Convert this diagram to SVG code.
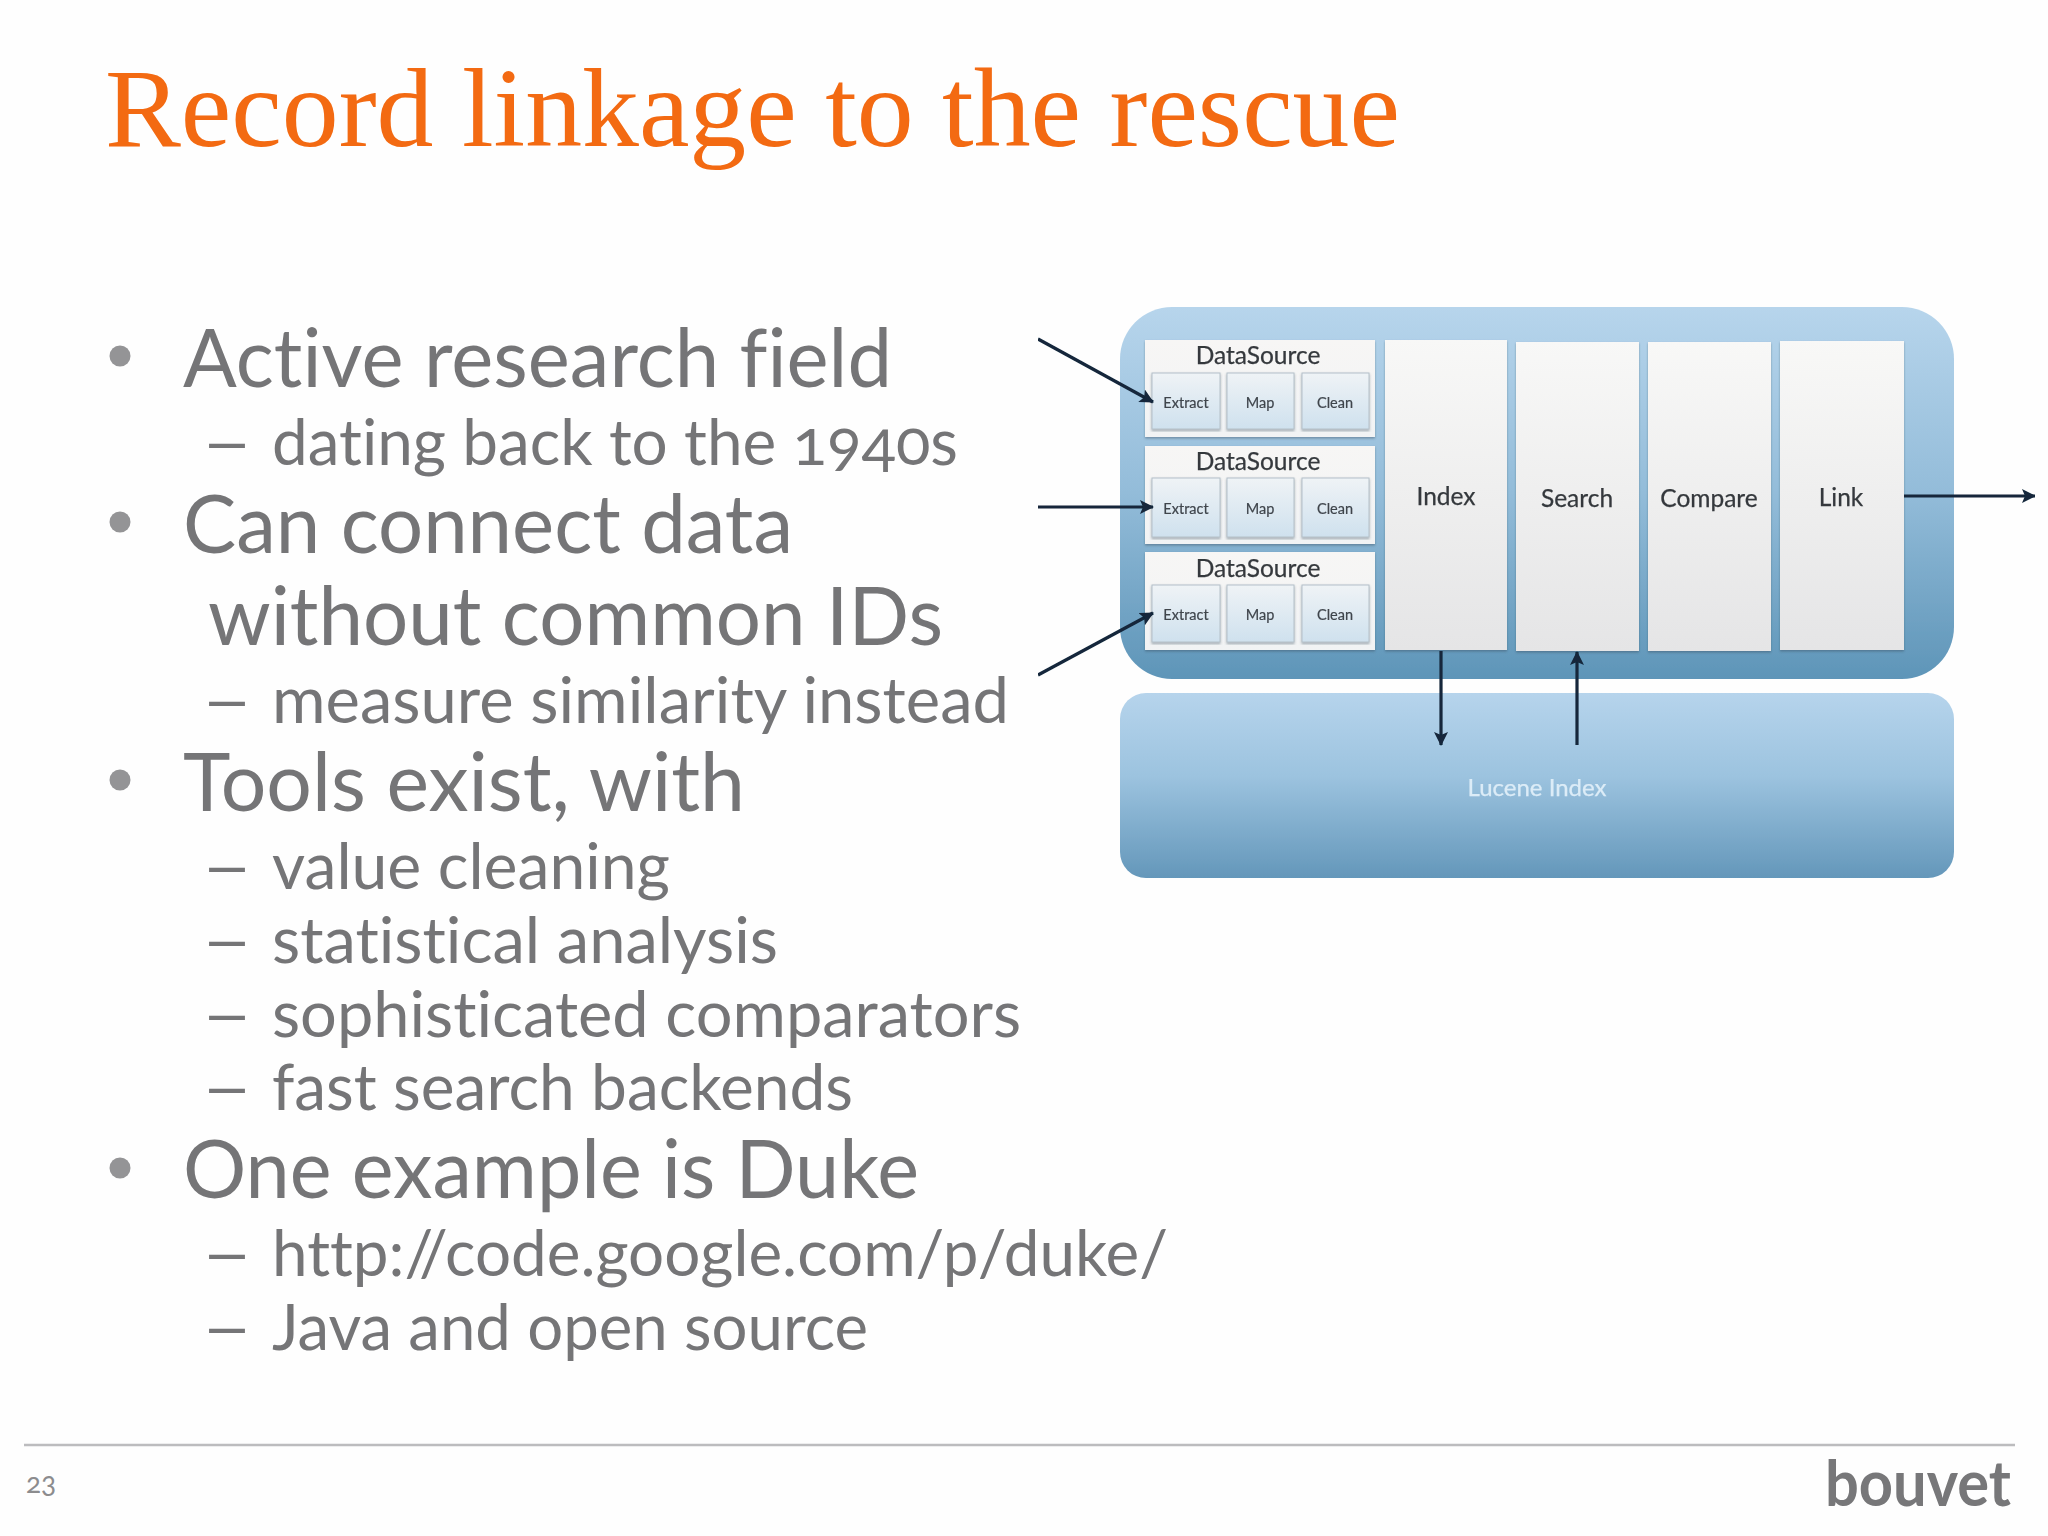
<svg xmlns="http://www.w3.org/2000/svg" width="2048" height="1536" viewBox="0 0 2048 1536">
<style>
text{font-family:"Lato","Open Sans","Liberation Sans",sans-serif;fill:#757577;font-variant-numeric:oldstyle-nums;font-variant-ligatures:none}
.title{font-family:"Liberation Serif",serif;font-size:113px;fill:#F36A12}
.l1{font-size:82px}
.l2{font-size:64px}
.blt{fill:#949496}
.ds{font-size:24.5px;fill:#34383c;text-anchor:middle;stroke:#34383c;stroke-width:.25}
.sm{font-size:14.5px;fill:#3f454c;text-anchor:middle;stroke:#3f454c;stroke-width:.2}
.st{font-size:24.5px;fill:#34383c;text-anchor:middle;stroke:#34383c;stroke-width:.25}
.pan{fill:url(#panelG);filter:url(#sh)}
.box{fill:url(#boxG);stroke:#b4c0c9;stroke-width:1;filter:url(#sh)}
.col{fill:url(#colG);filter:url(#sh)}
.conn{stroke:#12263a;stroke-width:3.2;fill:none;marker-end:url(#ah)}
</style>
<defs>
<linearGradient id="outerG" x1="0" y1="0" x2="0" y2="1"><stop offset="0" stop-color="#b7d5ec"/><stop offset=".5" stop-color="#93bcd9"/><stop offset="1" stop-color="#5e95b8"/></linearGradient>
<linearGradient id="lucG" x1="0" y1="0" x2="0" y2="1"><stop offset="0" stop-color="#b6d4ec"/><stop offset=".45" stop-color="#9cc3df"/><stop offset="1" stop-color="#6497ba"/></linearGradient>
<linearGradient id="panelG" x1="0" y1="0" x2="0" y2="1"><stop offset="0" stop-color="#f7f6f5"/><stop offset="1" stop-color="#f1f3f4"/></linearGradient>
<linearGradient id="colG" x1="0" y1="0" x2="0" y2="1"><stop offset="0" stop-color="#f8f8f7"/><stop offset="1" stop-color="#e5e5e6"/></linearGradient>
<linearGradient id="boxG" x1="0" y1="0" x2="0" y2="1"><stop offset="0" stop-color="#eff3f6"/><stop offset="1" stop-color="#cfe1ee"/></linearGradient>
<filter id="sh" x="-5%" y="-5%" width="110%" height="110%"><feDropShadow dx="0" dy="1.5" stdDeviation="1.2" flood-color="#33495a" flood-opacity=".45"/></filter>
<filter id="soft" x="0" y="0" width="100%" height="100%"><feGaussianBlur stdDeviation=".6"/></filter>
<marker id="ah" markerUnits="userSpaceOnUse" markerWidth="16" markerHeight="16" refX="13" refY="7" orient="auto"><path d="M0 0L14 7L0 14L3 7Z" fill="#12263a"/></marker>
</defs>
<rect width="2048" height="1536" fill="#fefefe"/>
<g id="title"><text class="title" x="105" y="146" textLength="1295" lengthAdjust="spacingAndGlyphs">Record linkage to the rescue</text></g>
<g id="body">
<circle class="blt" cx="120" cy="356" r="10.5"/>
<text class="l1" x="183" y="387" textLength="709" lengthAdjust="spacingAndGlyphs">Active research field</text>
<text class="l2" x="201" y="465" textLength="52" lengthAdjust="spacingAndGlyphs">–</text>
<text class="l2" x="272" y="465" textLength="686" lengthAdjust="spacingAndGlyphs">dating back to the 1940s</text>
<circle class="blt" cx="120" cy="522" r="10.5"/>
<text class="l1" x="183" y="553" textLength="610" lengthAdjust="spacingAndGlyphs">Can connect data</text>
<text class="l1" x="208" y="645" textLength="735" lengthAdjust="spacingAndGlyphs">without common IDs</text>
<text class="l2" x="201" y="723" textLength="52" lengthAdjust="spacingAndGlyphs">–</text>
<text class="l2" x="272" y="723" textLength="737" lengthAdjust="spacingAndGlyphs">measure similarity instead</text>
<circle class="blt" cx="120" cy="780" r="10.5"/>
<text class="l1" x="183" y="811" textLength="562" lengthAdjust="spacingAndGlyphs">Tools exist, with</text>
<text class="l2" x="201" y="889" textLength="52" lengthAdjust="spacingAndGlyphs">–</text>
<text class="l2" x="272" y="889" textLength="398" lengthAdjust="spacingAndGlyphs">value cleaning</text>
<text class="l2" x="201" y="963" textLength="52" lengthAdjust="spacingAndGlyphs">–</text>
<text class="l2" x="272" y="963" textLength="506" lengthAdjust="spacingAndGlyphs">statistical analysis</text>
<text class="l2" x="201" y="1037" textLength="52" lengthAdjust="spacingAndGlyphs">–</text>
<text class="l2" x="272" y="1037" textLength="749" lengthAdjust="spacingAndGlyphs">sophisticated comparators</text>
<text class="l2" x="201" y="1110" textLength="52" lengthAdjust="spacingAndGlyphs">–</text>
<text class="l2" x="272" y="1110" textLength="581" lengthAdjust="spacingAndGlyphs">fast search backends</text>
<circle class="blt" cx="120" cy="1168" r="10.5"/>
<text class="l1" x="183" y="1198" textLength="736" lengthAdjust="spacingAndGlyphs">One example is Duke</text>
<text class="l2" x="201" y="1276" textLength="52" lengthAdjust="spacingAndGlyphs">–</text>
<text class="l2" x="272" y="1276" textLength="896" lengthAdjust="spacingAndGlyphs">http://code.google.com/p/duke/</text>
<text class="l2" x="201" y="1350" textLength="52" lengthAdjust="spacingAndGlyphs">–</text>
<text class="l2" x="272" y="1350" textLength="596" lengthAdjust="spacingAndGlyphs">Java and open source</text>
</g>
<g id="diagram" filter="url(#soft)">
<g id="engine"><rect x="1120" y="307" width="834" height="372" rx="52" fill="url(#outerG)"/></g>
<g id="lucene"><rect x="1120" y="693" width="834" height="185" rx="26" fill="url(#lucG)"/><text x="1537" y="796" class="st" style="fill:#dcecf7;stroke:#dcecf7;font-size:24px">Lucene Index</text></g>
<g id="ds1"><rect class="pan" x="1145" y="340" width="230" height="97"/><text class="ds" x="1258" y="364">DataSource</text>
<g id="ds1-extract"><rect class="box" x="1152" y="373" width="68" height="56"/><text class="sm" x="1186" y="408">Extract</text></g>
<g id="ds1-map"><rect class="box" x="1227" y="373" width="67" height="56"/><text class="sm" x="1260" y="408">Map</text></g>
<g id="ds1-clean"><rect class="box" x="1302" y="373" width="67" height="56"/><text class="sm" x="1335" y="408">Clean</text></g></g>
<g id="ds2"><rect class="pan" x="1145" y="446" width="230" height="98"/><text class="ds" x="1258" y="470">DataSource</text>
<g id="ds2-extract"><rect class="box" x="1152" y="478" width="68" height="59"/><text class="sm" x="1186" y="514">Extract</text></g>
<g id="ds2-map"><rect class="box" x="1227" y="478" width="67" height="59"/><text class="sm" x="1260" y="514">Map</text></g>
<g id="ds2-clean"><rect class="box" x="1302" y="478" width="67" height="59"/><text class="sm" x="1335" y="514">Clean</text></g></g>
<g id="ds3"><rect class="pan" x="1145" y="552" width="230" height="98"/><text class="ds" x="1258" y="577">DataSource</text>
<g id="ds3-extract"><rect class="box" x="1152" y="585" width="68" height="57"/><text class="sm" x="1186" y="620">Extract</text></g>
<g id="ds3-map"><rect class="box" x="1227" y="585" width="67" height="57"/><text class="sm" x="1260" y="620">Map</text></g>
<g id="ds3-clean"><rect class="box" x="1302" y="585" width="67" height="57"/><text class="sm" x="1335" y="620">Clean</text></g></g>
<g id="index"><rect class="col" x="1385" y="340" width="122" height="310"/><text class="st" x="1446" y="505">Index</text></g>
<g id="search"><rect class="col" x="1516" y="342" width="123" height="309"/><text class="st" x="1577" y="507">Search</text></g>
<g id="compare"><rect class="col" x="1648" y="342" width="123" height="309"/><text class="st" x="1709" y="507">Compare</text></g>
<g id="link"><rect class="col" x="1780" y="341" width="124" height="309"/><text class="st" x="1841" y="506">Link</text></g>
<g id="connectors">
<line class="conn" x1="1038" y1="339" x2="1153" y2="402"/>
<line class="conn" x1="1038" y1="507" x2="1153" y2="507"/>
<line class="conn" x1="1038" y1="675" x2="1153" y2="613"/>
<line class="conn" x1="1441" y1="651" x2="1441" y2="745"/>
<line class="conn" x1="1577" y1="745" x2="1577" y2="652"/>
<line class="conn" x1="1904" y1="496" x2="2035" y2="496"/>
</g>
</g>
<g id="footer">
<line x1="24" y1="1445" x2="2015" y2="1445" stroke="#bcbcbe" stroke-width="2.5"/>
<text x="26" y="1493" style="font-size:28px;fill:#8c8c8e">23</text>
<text x="1825" y="1506" textLength="186" lengthAdjust="spacingAndGlyphs" style="font-weight:700;font-size:64px;fill:#777779">bouvet</text>
</g>
</svg>
